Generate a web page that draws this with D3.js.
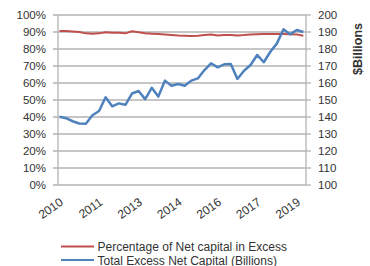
<!DOCTYPE html>
<html><head><meta charset="utf-8">
<script src="https://cdn.jsdelivr.net/npm/d3@7"></script>
<style>body{margin:0;background:#fff;}svg{display:block;font-family:"Liberation Sans",Arial,sans-serif;}</style>
</head><body><svg id="c" width="370" height="266"></svg>
<script>
const quarters = d3.range(38).map(i => (2010 + Math.floor(i/4)) + "Q" + (i%4+1));
const tickLabels = ["2010","2011","2013","2014","2016","2017","2019"];
const pctExcess = [90.6,90.6,90.3,90.0,89.2,89.0,89.2,89.9,89.5,89.6,89.2,90.4,89.8,89.2,89.0,88.8,88.6,88.3,88.0,87.8,87.6,87.8,88.2,88.5,88.0,88.3,88.2,88.0,88.2,88.5,88.7,88.8,88.8,88.8,88.8,88.7,88.6,87.8];
const totalExcess = [140.2,139.3,137.5,136.2,136.0,141.0,143.5,151.6,146.3,148.0,147.2,153.8,155.3,150.5,157.2,152.0,161.4,158.4,159.4,158.4,161.4,162.7,167.6,171.6,169.2,171.0,171.2,162.4,167.2,170.6,176.5,172.2,178.4,183.3,191.6,188.6,191.2,190.0];
const leftTicks = d3.range(0,101,10);
const rightTicks = d3.range(100,201,10);
const seriesNames = ["Percentage of Net capital in Excess","Total Excess Net Capital (Billions)"];
const colors = ["#c0504d","#4f81bd"];

const svg = d3.select("#c");
const L = 58, R = 306, T = 15, B = 185;
const x = d3.scalePoint().domain(quarters).range([59.5, 303.3]);
const yL = d3.scaleLinear().domain([0,100]).range([B,T]);
const yR = d3.scaleLinear().domain([100,200]).range([B,T]);
const grid = "#b3b3b3", txt = "#333333";

// gridlines
svg.append("g").selectAll("line").data(leftTicks).join("line")
  .attr("x1", L-5).attr("x2", R).attr("y1", d=>yL(d)).attr("y2", d=>yL(d))
  .attr("stroke", grid).attr("stroke-width", 1.3);
// axis lines
svg.append("line").attr("x1",L).attr("x2",L).attr("y1",T).attr("y2",B).attr("stroke",grid).attr("stroke-width",1.3);
svg.append("line").attr("x1",R).attr("x2",R).attr("y1",T).attr("y2",B).attr("stroke",grid).attr("stroke-width",1.3);
svg.append("g").selectAll("line").data(rightTicks).join("line")
  .attr("x1", R).attr("x2", R+5).attr("y1", d=>yR(d)).attr("y2", d=>yR(d))
  .attr("stroke", grid).attr("stroke-width", 1.3);

// left labels
svg.append("g").selectAll("text").data(leftTicks).join("text")
  .attr("x", 46).attr("y", d=>yL(d)+4).attr("text-anchor","end")
  .attr("font-size", 11.5).attr("fill", txt).text(d=>d+"%");
// right labels
svg.append("g").selectAll("text").data(rightTicks).join("text")
  .attr("x", 318).attr("y", d=>yR(d)+4).attr("text-anchor","start")
  .attr("font-size", 11.5).attr("fill", txt).text(d=>d);
// right title
svg.append("text").attr("transform","translate(362,49) rotate(-90)")
  .attr("text-anchor","middle").attr("font-size",12.5).attr("font-weight","bold")
  .attr("fill", txt).text("$Billions");

// x labels
const tickIdx = tickLabels.map((t,i)=>i*6);
svg.append("g").selectAll("text").data(tickIdx).join("text")
  .attr("transform", (d)=>`translate(${x(quarters[d])+4.5},${204}) rotate(-35)`)
  .attr("text-anchor","end").attr("font-size", 12).attr("fill", txt)
  .text((d,i)=>tickLabels[i]);

// lines
const lineL = d3.line().x((d,i)=>x(quarters[i])).y(d=>yL(d));
const lineR = d3.line().x((d,i)=>x(quarters[i])).y(d=>yR(d));
svg.append("path").attr("d", lineL(pctExcess)).attr("fill","none").attr("stroke",colors[0]).attr("stroke-width",2).attr("stroke-linejoin","round");
svg.append("path").attr("d", lineR(totalExcess)).attr("fill","none").attr("stroke",colors[1]).attr("stroke-width",2.5).attr("stroke-linejoin","round");

// legend
const lg = svg.append("g").selectAll("g").data(seriesNames).join("g")
  .attr("transform",(d,i)=>`translate(0,${246.5 + i*13.5})`);
lg.append("line").attr("x1",61).attr("x2",94).attr("stroke",(d,i)=>colors[i]).attr("stroke-width",2);
lg.append("text").attr("x",97.5).attr("y",4.5).attr("font-size",12).attr("fill",txt).text(d=>d);
</script></body></html>
